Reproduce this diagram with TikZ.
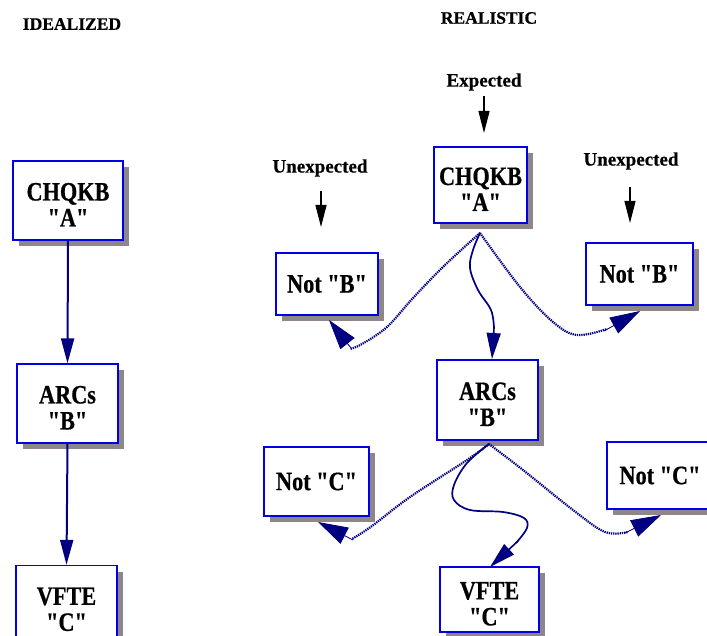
\documentclass[tikz,border=0pt]{standalone}
\usepackage{fontspec}
\setmainfont{Liberation Serif}[FakeBold=0.6]
\newfontfamily\boxfont{Liberation Serif}[FakeStretch=0.84,FakeBold=0.6]
\usetikzlibrary{arrows.meta,shadows}
\definecolor{navy}{HTML}{000080}
\definecolor{boxblue}{HTML}{0000E6}
\definecolor{shade}{HTML}{8F8787}
\newcommand\bxstrut{\rule{0pt}{26pt}}
\begin{document}
\begin{tikzpicture}[x=1pt,y=-1pt,
 box/.style={draw=boxblue, line width=1.3pt, fill=white, inner sep=0pt, align=center,
   font=\boxfont\bfseries\fontsize{26.5}{26}\selectfont,
   drop shadow={shadow xshift=6pt, shadow yshift=-6pt, fill=shade, opacity=1}},
 lbl/.style={font=\bfseries\fontsize{19}{21}\selectfont, inner sep=0pt},
 ttl/.style={font=\bfseries\fontsize{17.5}{19}\selectfont, inner sep=0pt},
 flow/.style={draw=navy, line width=2pt, -{Triangle[length=25pt,width=13pt]}},
 larrow/.style={draw=black, line width=1.2pt, -{Triangle[length=22pt,width=11pt]}},
 wavy/.style={draw=navy, line width=1.7pt},
 alt/.style={draw=navy, line width=2.2pt, dash pattern=on 1.3pt off 0.9pt},
 bigtip/.style={draw=navy, fill=navy, line width=0.8pt, -{Triangle[length=30pt,width=18pt]}},
 midtip/.style={draw=navy, fill=navy, line width=1.6pt, -{Triangle[length=26pt,width=14pt]}}
]
\useasboundingbox (0,0) rectangle (707,636);

% titles
\node[ttl] (tideal) at (72,24) {IDEALIZED};
\node[ttl] (treal) at (489,18) {REALISTIC};

% idealized column
\node[box, minimum width=110pt, minimum height=79pt] (LA) at (68,200.5) {\bxstrut CHQKB\\"A"};
\node[box, minimum width=101pt, minimum height=79pt] (LB) at (67.5,403.5) {\bxstrut ARCs\\"B"};
\node[box, minimum width=101pt, minimum height=79pt] (LC) at (66.5,605) {\bxstrut VFTE\\"C"};
\draw[flow] (LA.south) -- (LB.north);
\draw[flow] (LB.south) -- (LC.north);

% realistic
\node[box, minimum width=93pt, minimum height=76pt] (RA) at (480.5,185) {\bxstrut CHQKB\\"A"};
\node[box, minimum width=102pt, minimum height=62pt] (NB1) at (327,284) {Not "B"};
\node[box, minimum width=107pt, minimum height=62pt] (NB2) at (639.5,274) {Not "B"};
\node[box, minimum width=101pt, minimum height=80pt] (RB) at (487.5,400) {\bxstrut ARCs\\"B"};
\node[box, minimum width=105pt, minimum height=69pt] (NC1) at (316.5,481.5) {Not "C"};
\node[box, minimum width=106pt, minimum height=67pt] (NC2) at (660,475.5) {Not "C"};
\node[box, minimum width=99pt, minimum height=65pt] (RC) at (489.5,599.5) {\bxstrut VFTE\\"C"};

% labels with arrows
\node[lbl] (exp) at (484,82) {Expected};
\node[lbl] (un1) at (320,168) {Unexpected};
\node[lbl] (un2) at (631,161) {Unexpected};
\coordinate (expend) at (484,133);
\coordinate (un1end) at (321,227);
\coordinate (un2end) at (630,223);
\draw[larrow] (484,96) -- (expend);
\draw[larrow] (321,191) -- (un1end);
\draw[larrow] (630,187) -- (un2end);

% apex points
\coordinate (apA) at (480,233);
\coordinate (apB) at (489,444);

% from A
\draw[wavy] plot[smooth, tension=0.6] coordinates {(apA) (473,250) (470,268) (478,290) (491,310) (494,328)};
\draw[midtip] (494,328) -- (492,359);
\coordinate (nb1tip) at (329,320);
\draw[alt] plot[smooth, tension=0.6] coordinates {(apA) (445,265) (413,298) (387,327) (362,344) (350,349)};
\draw[bigtip] (351,348) -- (nb1tip);
\coordinate (nb2tip) at (640,311);
\draw[alt] plot[smooth, tension=0.6] coordinates {(apA) (520,287) (553,322) (577,335) (607,329)};
\draw[bigtip] (604,331) -- (nb2tip);

% from B
\draw[wavy] plot[smooth, tension=0.6] coordinates {(apB) (467,463) (454,485) (454,500) (470,510) (503,512) (524,518) (527,528) (516,543)};
\draw[midtip] (518,541) -- (490,567);
\coordinate (nc1tip) at (318,522);
\draw[alt] plot[smooth, tension=0.6] coordinates {(apB) (467,460) (410,497) (372,526) (352,539)};
\draw[bigtip] (353,540) -- (nc1tip);
\coordinate (nc2tip) at (661,515);
\draw[alt] plot[smooth, tension=0.6] coordinates {(apB) (523,470) (573,510) (605,532) (628,532)};
\draw[bigtip] (625,533) -- (nc2tip);
\end{tikzpicture}
\end{document}
